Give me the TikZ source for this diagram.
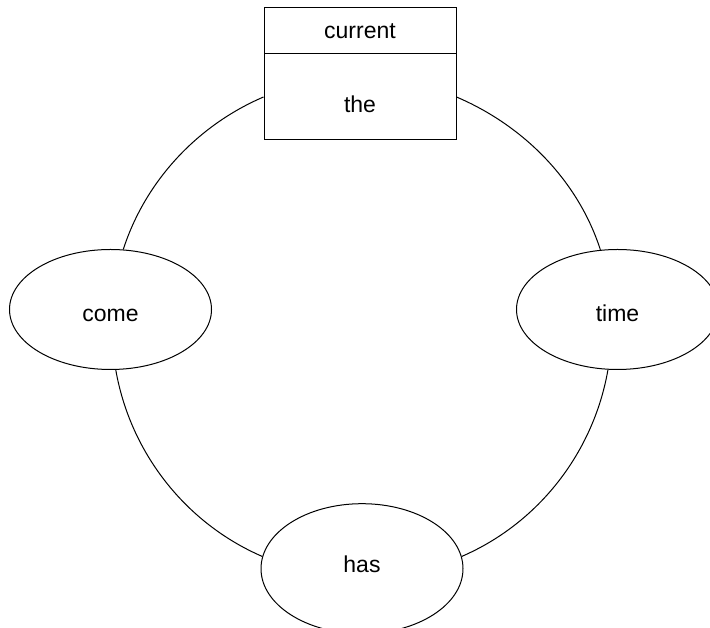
\documentclass[tikz,border=0pt]{standalone}
\usepackage{fontspec}
\setmainfont{Liberation Sans}
\usetikzlibrary{shapes.geometric}
\begin{document}
\begin{tikzpicture}[x=1pt,y=1pt,
  every node/.style={font=\fontsize{23}{27}\selectfont,text depth=0pt},
  cell/.style={draw,line width=1pt,rectangle,minimum width=192pt,inner sep=0pt},
  oval/.style={draw,line width=1pt,ellipse,minimum width=202pt,minimum height=120pt,inner sep=0pt},
  link/.style={line width=1pt}]
\useasboundingbox (0,0) rectangle (710,628);
\node[cell,minimum height=46pt,text height=14.6pt] (boxtop) at (360,597) {current};
\node[cell,minimum height=86pt,text height=30.6pt] (boxbot) at (360,531) {the};
\node[oval,text height=24.4pt] (come) at (110.5,318.5) {come};
\node[oval,text height=24.4pt] (time) at (617.5,318.5) {time};
\node[oval,minimum height=130pt,text height=7.2pt] (has) at (362,59.3) {has};
\draw[link] (boxbot.west) to[out=203.2,in=72.1,looseness=0.89] (come.78);
\draw[link] (come.275) to[out=279.9,in=156.6,looseness=0.906] (has.173);
\draw[link] (has.7) to[out=23.4,in=260.1,looseness=0.906] (time.261);
\draw[link] (time.106) to[out=107.9,in=-23.1,looseness=0.89] (boxbot.east);
\end{tikzpicture}
\end{document}
